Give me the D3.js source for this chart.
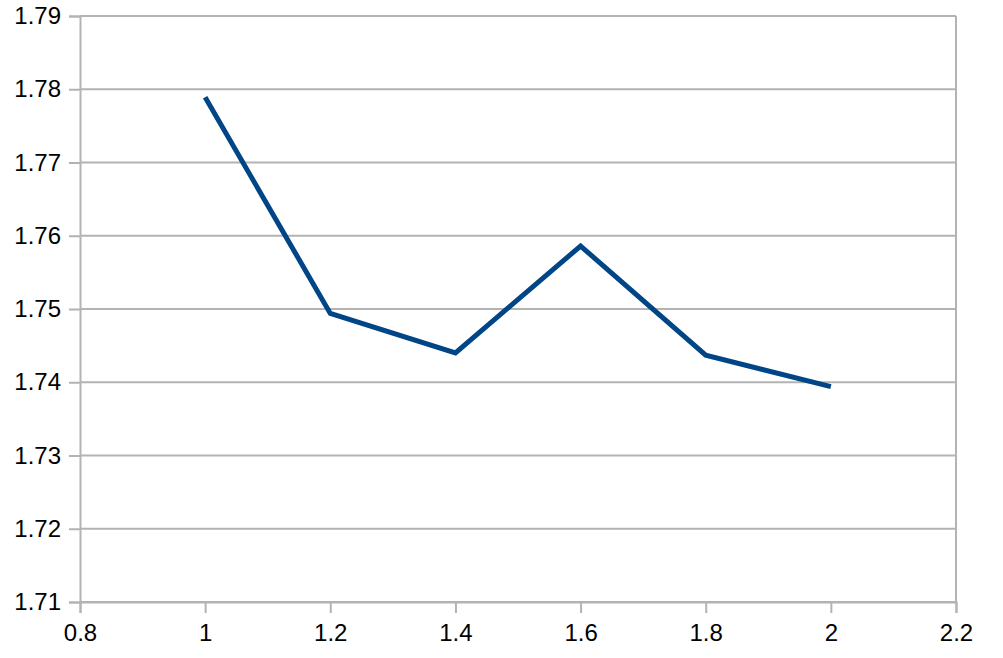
<!DOCTYPE html>
<html>
<head>
<meta charset="utf-8">
<script src="https://cdn.jsdelivr.net/npm/d3@7"></script>
<style>
  body { margin: 0; background: #fff; }
  text { font-family: "Liberation Sans", Arial, sans-serif; }
</style>
</head>
<body>
<div id="chart"></div>
<script>
// data
var xValues = [1, 1.2, 1.4, 1.6, 1.8, 2];
var yValues = [1.7789, 1.7494, 1.7440, 1.7586, 1.7437, 1.7394];
var xTicks = [0.8, 1, 1.2, 1.4, 1.6, 1.8, 2, 2.2];
var yTicks = [1.71, 1.72, 1.73, 1.74, 1.75, 1.76, 1.77, 1.78, 1.79];

var margin = {top: 16, right: 47, bottom: 56, left: 80},
    width = 1003 - margin.left - margin.right,
    height = 658 - margin.top - margin.bottom;

var x = d3.scaleLinear().domain([0.8, 2.2]).range([0, width]);
var y = d3.scaleLinear().domain([1.71, 1.79]).range([height, 0]);

var svg = d3.select("#chart").append("svg")
    .attr("width", 1003)
    .attr("height", 658)
  .append("g")
    .attr("transform", "translate(" + margin.left + "," + margin.top + ")");

// horizontal grid lines
svg.append("g")
    .selectAll("line")
    .data(yTicks)
    .enter().append("line")
    .attr("x1", 0)
    .attr("x2", width)
    .attr("y1", function(d) { return y(d); })
    .attr("y2", function(d) { return y(d); })
    .attr("stroke", "#b3b3b3")
    .attr("stroke-width", 2);

// right edge line
svg.append("line")
    .attr("x1", width).attr("x2", width)
    .attr("y1", 0).attr("y2", height)
    .attr("stroke", "#b3b3b3")
    .attr("stroke-width", 2);

// x axis
var xAxis = svg.append("g")
    .attr("transform", "translate(0," + height + ")")
    .call(d3.axisBottom(x).tickValues(xTicks).tickSize(11).tickPadding(11)
      .tickFormat(function(d) { return String(+d.toFixed(1)); }));

// y axis
var yAxis = svg.append("g")
    .call(d3.axisLeft(y).tickValues(yTicks).tickSize(11).tickPadding(8)
      .tickFormat(function(d) { return String(+d.toFixed(2)); }));

[xAxis, yAxis].forEach(function(ax) {
  ax.select(".domain").attr("stroke", "#b3b3b3").attr("stroke-width", 2);
  ax.selectAll(".tick line").attr("stroke", "#b3b3b3").attr("stroke-width", 2);
  ax.selectAll(".tick text")
      .attr("fill", "#000")
      .style("font-size", "24px")
      .style("font-family", "'Liberation Sans', Arial, sans-serif");
});

// the line
var line = d3.line()
    .x(function(d, i) { return x(xValues[i]); })
    .y(function(d) { return y(d); });

svg.append("path")
    .datum(yValues)
    .attr("fill", "none")
    .attr("stroke", "#004586")
    .attr("stroke-width", 5)
    .attr("stroke-linejoin", "miter")
    .attr("d", line);
</script>
</body>
</html>
